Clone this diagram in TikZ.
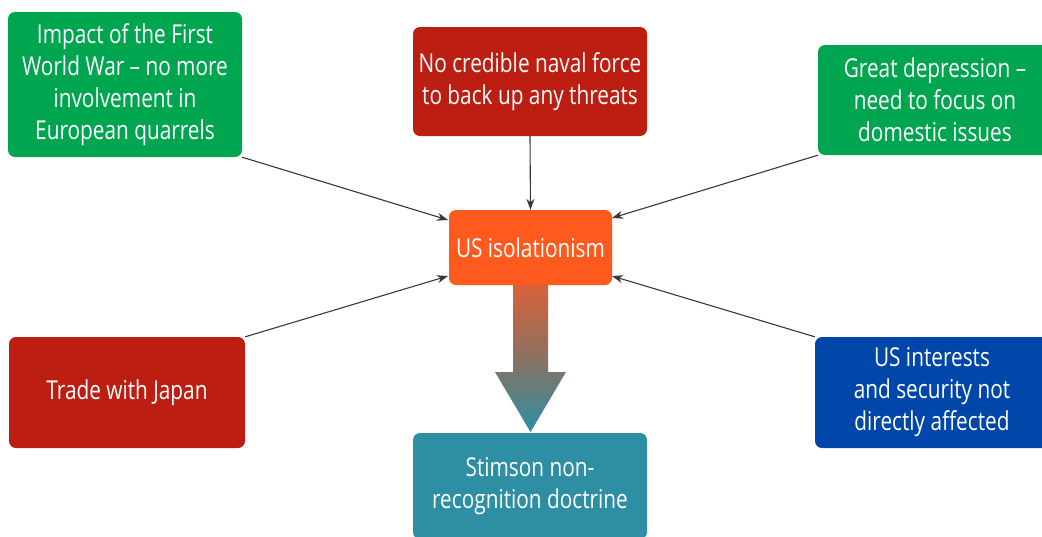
\documentclass[tikz,border=0pt]{standalone}
\usepackage{fontspec}
\setmainfont[FakeStretch=0.8]{Open Sans}
\usetikzlibrary{arrows.meta,positioning}
\definecolor{cgreen}{HTML}{00A550}
\definecolor{cred}{HTML}{BC1E12}
\definecolor{corange}{HTML}{FF5A1E}
\definecolor{cblue}{HTML}{0047A9}
\definecolor{cteal}{HTML}{2E8EA4}
\definecolor{cline}{HTML}{383838}
\definecolor{gtop}{HTML}{D8613A}
\definecolor{gmid}{HTML}{8A7262}
\begin{document}
\begin{tikzpicture}[x=1pt,y=-1pt,
  box/.style={rounded corners=7pt,align=center,text=white,inner sep=0pt,
    font=\fontsize{26}{32}\selectfont},
  conn/.style={draw=cline,line width=1.1pt,-{Stealth[length=11pt,width=8pt]}}]
\useasboundingbox (0,0) rectangle (1042,536);
\clip (0,0) rectangle (1042,536);
\fill[white] (0,0) rectangle (1042,536);
\node[box,fill=cgreen,minimum width=234pt,minimum height=145pt] (gl) at (125,84.5)
  {Impact of the First\\World War -- no more\\involvement in\\European quarrels};
\node[box,fill=cred,minimum width=234pt,minimum height=109pt] (rt) at (530,81.5)
  {No credible naval force\\to back up any threats};
\node[box,fill=cgreen,minimum width=234pt,minimum height=110pt] (gr) at (935,100)
  {Great depression --\\need to focus on\\domestic issues};
\node[box,fill=corange,minimum width=163pt,minimum height=75pt] (iso) at (530.5,247.5)
  {US isolationism};
\node[box,fill=cred,minimum width=236pt,minimum height=111pt] (rl) at (127,392.5)
  {Trade with Japan};
\node[box,fill=cblue,minimum width=234pt,minimum height=111pt] (bl) at (932,392.5)
  {US interests\\and security not\\directly affected};
\node[box,fill=cteal,minimum width=234pt,minimum height=106pt] (tl) at (530,486)
  {Stimson non-\\recognition doctrine};
% connector end points on the central box
\coordinate (e1) at (448,220);
\coordinate (e2) at (612,218);
\coordinate (e3) at (448,276);
\coordinate (e4) at (612,276);
\draw[conn] (gl.south east) -- (e1);
\draw[conn] (rt.south) -- (iso.north);
\draw[conn] (gr.south west) -- (e2);
\draw[conn] (rl.north east) -- (e3);
\draw[conn] (bl.north west) -- (e4);
% big shaded arrow
\shade[top color=gtop,bottom color=cteal,middle color=gmid]
  (513,285) -- (548,285) -- (548,372) -- (566,372) -- (530.5,432) -- (495,372) -- (513,372) -- cycle;
\end{tikzpicture}
\end{document}
